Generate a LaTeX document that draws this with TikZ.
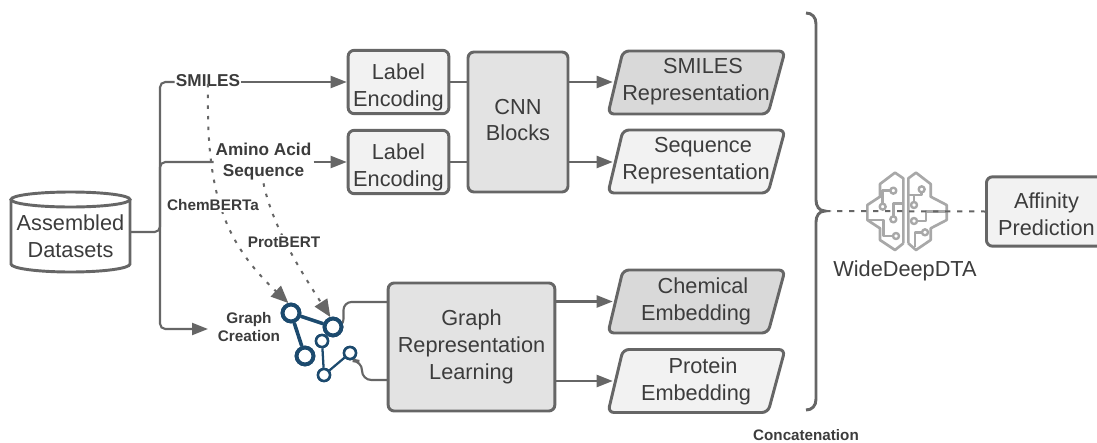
\documentclass[tikz,border=0pt]{standalone}
\usepackage{fontspec}
\setmainfont{Liberation Sans}
\usetikzlibrary{arrows.meta,calc}
\definecolor{ln}{HTML}{666666}
\definecolor{tx}{HTML}{3C3C3C}
\definecolor{fa}{HTML}{F2F2F2}
\definecolor{fb}{HTML}{E3E3E3}
\definecolor{fc}{HTML}{D9D9D9}
\definecolor{gblue}{HTML}{1C4A6E}
\definecolor{brain}{HTML}{A8A8A8}
\newcommand\tl[2]{\raisebox{#1}[0pt][0pt]{\begin{tabular}{@{}c@{}}#2\end{tabular}}}
\newcommand\fbig{\fontsize{16.3}{20.2}\selectfont}
\newcommand\para[5]{%
  \draw[ln,line width=2.2pt,fill=#4,rounded corners=4.5pt,line join=round]
    ($(#2,#3)+(-73,-31.5)$) -- ($(#2,#3)+(89,-31.5)$) -- ($(#2,#3)+(72,31.5)$) -- ($(#2,#3)+(-88,31.5)$) -- cycle;
  \node[txt,minimum width=124.5pt,minimum height=47pt,inner sep=0pt] (#1) at (#2,#3) {#5};}
\tikzset{
  x=0.75pt,y=-0.75pt,
  txt/.style={text=tx,font=\fbig},
  lab/.style={text=tx,font=\bfseries\fontsize{12.9}{15.8}\selectfont,inner sep=0pt,outer sep=1pt},
  labs/.style={text=tx,font=\bfseries\fontsize{11.5}{13.5}\selectfont,inner sep=1pt,fill=white},
  boxn/.style={draw=ln,line width=2.2pt,rounded corners=4.5pt,inner sep=0pt,text=tx,font=\fbig},
  conn/.style={draw=ln,line width=1.6pt,rounded corners=4pt},
  arr/.style={conn,-{Triangle[length=12pt,width=9pt,fill=ln]}},
  dots/.style={draw=ln,line width=1.5pt,dash pattern=on 2.6pt off 5.4pt},
  tipd/.style={-{Triangle[length=13pt,width=11pt,fill=ln]}},
  gbig/.style={circle,draw=gblue,line width=2.9pt,fill=white,minimum size=12.6pt,inner sep=0pt},
  gsmall/.style={circle,draw=gblue,line width=1.9pt,fill=white,minimum size=9pt,inner sep=0pt},
  gedge/.style={draw=gblue,line width=2.7pt},
  gedges/.style={draw=gblue,line width=1.7pt},
  brn/.style={draw=brain,line width=1.8pt,line join=round},
}
\begin{document}
\begin{tikzpicture}
\useasboundingbox (0,0) rectangle (1097,443);
% cylinder
\draw[ln,line width=2.2pt,fill=white] (11,199.5) -- (11,264) arc[start angle=180,end angle=0,x radius=59.5,y radius=8] -- (130,199.5);
\draw[ln,line width=2.2pt,fill=white] (70.5,199.5) ellipse[x radius=59.5,y radius=7.5];
\node[txt,minimum width=89.5pt,minimum height=40pt,inner sep=0pt] (ds) at (70.5,232) {\tl{-9.1pt}{Assembled\\Datasets}};
% labels
\node[lab] (smiles) at (208,82) {\tl{-3pt}{SMILES}};
\node[lab,minimum width=73pt,minimum height=30pt] (aa) at (263.5,162) {\tl{-2.8pt}{Amino Acid\\Sequence}};
% boxes
\node[boxn,fill=fa,minimum width=75.5pt,minimum height=47.5pt] (le1) at (398.5,82) {\tl{-8.6pt}{Label\\Encoding}};
\node[boxn,fill=fa,minimum width=75.5pt,minimum height=47.5pt] (le2) at (398.5,162) {\tl{-8.6pt}{Label\\Encoding}};
\node[boxn,fill=fb,minimum width=75pt,minimum height=105pt] (cnn) at (518,122) {\tl{-4.4pt}{CNN\\Blocks}};
\node[boxn,fill=fb,minimum width=125pt,minimum height=96pt] (grl) at (471.5,347) {\tl{-4.4pt}{Graph\\Representation\\Learning}};
\para{sr}{696}{82.5}{fc}{\tl{-3.8pt}{\hspace*{10.5pt}SMILES\\Representation}}
\para{qr}{696}{161.5}{fa}{\tl{-3.8pt}{\hspace*{10.5pt}Sequence\\Representation}}
\para{ce}{696}{301.5}{fc}{\tl{-4.4pt}{\hspace*{10.5pt}Chemical\\Embedding}}
\para{pe}{696}{381}{fa}{\tl{-4.9pt}{\hspace*{10.5pt}Protein\\Embedding}}
\node[boxn,fill=fa,minimum width=90pt,minimum height=52pt,anchor=west] (aff) at (985,211.5) {\tl{-8pt}{Affinity\\Prediction}};
\node[txt,inner sep=0pt] (wd) at (905,271) {WideDeepDTA};
\node[text=tx,font=\bfseries\fontsize{11.4}{14}\selectfont,inner sep=0pt] (conc) at (806,435) {Concatenation};
% graph icon
\node[gbig] (g1) at (291,313) {};
\node[gbig] (g2) at (333,327) {};
\node[gbig] (g3) at (305,356) {};
\node[gsmall] (g4) at (322,341) {};
\node[gsmall] (g5) at (324,375) {};
\node[gsmall] (g6) at (350,353) {};
\coordinate (ga) at (388,302);
\coordinate (gb) at (388,380);
\coordinate (tr) at (160,232);
% solid connectors
\draw[conn] (ds.east) -- (tr) |- (smiles.west);
\draw[conn] (tr) |- (aa.west);
\draw[arr] (tr) |- (208,329);
\draw[arr] (smiles.east) -- (le1.west);
\draw[arr] (aa.east) -- (le2.west);
\draw[conn] (le1.east) -- (cnn.west |- le1.east);
\draw[conn] (le2.east) -- (cnn.west |- le2.east);
\draw[arr] (cnn.east |- le1.east) -- (sr.west |- le1.east);
\draw[arr] (cnn.east |- le2.east) -- (qr.west |- le2.east);
\draw[arr] (grl.east |- ce.west) -- (ce.west);
\draw[arr] (grl.east |- pe.west) -- (pe.west);
\draw[conn,rounded corners=6pt] (g2.east) -- (343.5,327) |- (ga);
\draw[conn,rounded corners=7pt] (g6.south) -- (350,361) -- (362,361) |- (gb);
% graph edges
\draw[gedge] (g1) -- (g2);
\draw[gedge] (g1) -- (g3);
\draw[gedges] (g4) -- (g5);
\draw[gedges] (g5) -- (g6);
\node[gbig] at (g1) {};
\node[gbig] at (g2) {};
\node[gbig] at (g3) {};
\node[gsmall] at (g4) {};
\node[gsmall] at (g5) {};
\node[gsmall] at (g6) {};
% dotted curves
\draw[dots,tipd] (smiles.south) .. controls (206,190) and (222,240) .. (g1.105);
\draw[dots,tipd] (aa.south) .. controls (272,225) and (300,270) .. (g2.105);
\node[labs] (cb) at (213,205) {ChemBERTa};
\node[labs] (pb) at (284,242) {ProtBERT};
\node[text=tx,font=\bfseries\fontsize{11.5}{13.5}\selectfont,inner sep=0pt] (gc) at (249,327) {\tl{-4.5pt}{Graph\\Creation}};
% brace
\draw[ln,line width=2.2pt] (806,13) .. controls (812,13) and (816,17) .. (816,24) -- (816,200) .. controls (816,206) and (819,211) .. (825,211) .. controls (819,211) and (816,216) .. (816,222) -- (816,399) .. controls (816,406) and (812,410) .. (806,410);
\coordinate (bt) at (825,211);
% brain
\begin{scope}[shift={(840,160)},x=0.25pt,y=-0.25pt]
\draw[brn,line width=2pt] (190,250) -- (190,55) -- (165,38) -- (120,72) -- (120,110) -- (82,135) -- (82,180) -- (120,205) -- (120,240) -- (165,270) -- (190,250);
\draw[brn,line width=2pt] (205,250) -- (205,55) -- (228,38) -- (272,72) -- (272,110) -- (320,135) -- (320,180) -- (272,205) -- (272,240) -- (228,270) -- (205,250);
\draw[brn] (152,92) -- (128,92) -- (128,130);
\draw[brn] (128,140) circle[radius=9];
\draw[brn] (160,92) circle[radius=9];
\draw[brn] (160,168) -- (160,130) -- (190,130);
\draw[brn] (160,178) circle[radius=9];
\draw[brn] (85,180) -- (130,180) -- (130,228) -- (158,228);
\draw[brn] (168,228) circle[radius=9];
\draw[brn] (245,98) -- (245,105) -- (205,105);
\draw[brn] (245,88) circle[radius=9];
\draw[brn] (222,125) -- (222,105);
\draw[brn] (222,135) circle[radius=9];
\draw[brn] (232,183) -- (258,183) -- (258,155) -- (318,155);
\draw[brn] (222,183) circle[radius=9];
\draw[brn] (245,217) -- (225,217) -- (225,262);
\draw[brn] (255,217) circle[radius=9];
\end{scope}
\draw[draw=ln,line width=1.5pt,dash pattern=on 4pt off 5pt] (bt) -- (aff.west);
\end{tikzpicture}
\end{document}
